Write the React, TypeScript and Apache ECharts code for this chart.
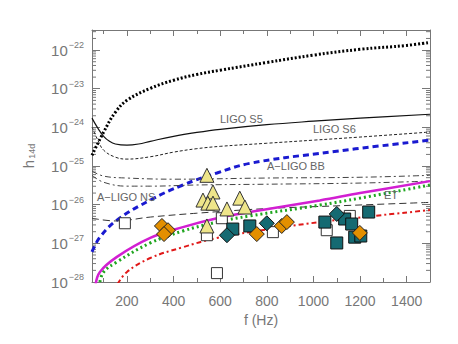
import React, { useEffect, useRef } from 'react';
import * as echarts from 'echarts';

// Frequencies (Hz) and log10(h) values
const topDotF = [50, 100, 150, 200, 300, 400, 500, 600, 800, 1000, 1200, 1400, 1500];
const topDotLog = [-24.72, -24.12, -23.61, -23.30, -22.99, -22.78, -22.63, -22.52, -22.32, -22.13, -21.98, -21.88, -21.80];

const s5F = [50, 75, 100, 125, 150, 200, 250, 300, 400, 500, 600, 800, 1000, 1200, 1500];
const s5Log = [-23.76, -24.02, -24.23, -24.36, -24.43, -24.46, -24.43, -24.36, -24.23, -24.13, -24.05, -23.93, -23.84, -23.76, -23.66];

const s6F = [50, 75, 100, 150, 200, 300, 400, 500, 600, 800, 1000, 1200, 1500];
const s6Log = [-23.99, -24.33, -24.59, -24.77, -24.82, -24.76, -24.64, -24.55, -24.49, -24.41, -24.33, -24.25, -24.12];

const blueF = [50, 84, 157, 300, 440, 586, 727, 1027, 1500];
const blueLog = [-27.22, -26.84, -26.40, -25.88, -25.49, -25.18, -24.93, -24.67, -24.33];

const bbF = [50, 100, 200, 400, 800, 1200, 1500];
const bbLog = [-25.13, -25.26, -25.31, -25.34, -25.31, -25.29, -25.24];

const nsF = [50, 100, 200, 300, 500, 800, 1200, 1500];
const nsLog = [-25.24, -25.42, -25.52, -25.52, -25.49, -25.47, -25.44, -25.39];

const etF = [50, 150, 300, 500, 800, 1100, 1500];
const etLog = [-26.35, -26.42, -26.32, -26.22, -26.10, -26.03, -25.94];

const magF = [65, 84, 157, 300, 440, 586, 727, 1027, 1200, 1500];
const magLog = [-28.08, -27.74, -27.35, -26.86, -26.58, -26.35, -26.19, -25.89, -25.70, -25.39];

const greenF = [84, 100, 157, 300, 440, 586, 727, 1027, 1200, 1500];
const greenLog = [-28.0, -27.74, -27.48, -26.99, -26.68, -26.45, -26.29, -26.01, -25.83, -25.49];

const redF = [160, 200, 300, 440, 586, 727, 1027, 1500];
const redLog = [-28.05, -27.74, -27.38, -27.10, -26.86, -26.71, -26.45, -26.14];

// Markers: [f (Hz), log10 h]
const triangles = [[543, -25.24], [569, -25.67], [526, -25.88], [547, -25.96], [569, -25.96], [629, -26.11], [684, -25.83], [706, -26.06], [543, -26.55]];
const openSquares = [[191, -26.48], [543, -26.79], [607, -26.35], [586, -27.77], [826, -26.71], [1057, -26.66], [1156, -26.29]];
const tealSquares = [[654, -26.63], [727, -26.55], [1049, -26.45], [1134, -26.37], [1164, -26.50], [1100, -26.99], [1177, -26.84], [1203, -26.81], [1237, -26.19]];
const tealDiamonds = [[629, -26.79], [800, -26.48], [1100, -26.24]];
const orangeDiamonds = [[350, -26.55], [376, -26.66], [359, -26.76], [757, -26.76], [864, -26.55], [886, -26.45], [1199, -26.73]];

// Decades shown on the log axis
const decades = [-28, -27, -26, -25, -24, -23, -22];
const minorMultipliers = [2, 3, 4, 5, 6, 7, 8, 9];

const X_MIN = 50;
const X_MAX = 1500;
const Y_MIN = -28;
const Y_MAX = -21.48;

const toData = (f: number[], lg: number[]) => f.map((x, i) => [x, lg[i]]);

const FONT = 'Liberation Sans';
const GREY = '#777';

export default function App() {
  const ref = useRef<HTMLDivElement>(null);
  useEffect(() => {
    const chart = echarts.init(ref.current!, null, { renderer: 'svg' });
    const yFmt = (v: number) => {
      const e = Math.round(v);
      if (Math.abs(v - e) > 0.01) return '';
      return `{b|10}{s|\u2212${-e}}`;
    };
    const line = (name: string, f: number[], lg: number[], color: string, width: number, type: any) => ({
      name, type: 'line', data: toData(f, lg), smooth: 0.4, showSymbol: false, symbol: 'none',
      lineStyle: { color, width, type }, z: 2, clip: true,
    });
    const scatter = (name: string, p: number[][], symbol: string, size: number, color: string, borderColor: string, z = 5) => ({
      name, type: 'scatter', data: p, symbol, symbolSize: size,
      itemStyle: { color, borderColor, borderWidth: 1, opacity: 1 }, z,
    });
    const minorTickVals: number[][] = [];
    decades.forEach((d) => minorMultipliers.forEach((k) => {
      const v = d + Math.log10(k);
      if (v < Y_MAX) minorTickVals.push([X_MIN, v]);
    }));
    const option: any = {
      animation: false,
      backgroundColor: '#fff',
      grid: { left: 92, right: 28, top: 30, bottom: 62, containLabel: false },
      xAxis: [
        {
          type: 'value', min: X_MIN, max: X_MAX, splitNumber: 7,
          name: 'f (Hz)', nameLocation: 'middle', nameGap: 31,
          nameTextStyle: { fontFamily: FONT, fontSize: 14, color: GREY },
          axisLine: { show: true, onZero: false, lineStyle: { color: GREY, width: 1 } },
          axisTick: { show: true, inside: true, length: 6, lineStyle: { color: GREY } },
          minorTick: { show: true, splitNumber: 2, length: 4, lineStyle: { color: GREY } },
          axisLabel: { fontFamily: FONT, fontSize: 14, color: GREY, margin: 12, formatter: (v: number) => (v % 200 === 0 ? String(v) : '') },
          splitLine: { show: false },
        },
        {
          type: 'value', min: X_MIN, max: X_MAX, splitNumber: 7, position: 'top',
          axisLine: { show: true, onZero: false, lineStyle: { color: GREY, width: 1 } },
          axisTick: { show: true, inside: true, length: 6, lineStyle: { color: GREY } },
          minorTick: { show: true, splitNumber: 2, length: 4, lineStyle: { color: GREY } },
          axisLabel: { show: false },
          splitLine: { show: false },
        },
      ],
      yAxis: [
        {
          type: 'value', min: Y_MIN, max: Y_MAX, interval: 1,
          name: '{h|h}{sub|14d}', nameLocation: 'middle', nameGap: 56, nameRotate: 90,
          nameTextStyle: { rich: { h: { fontFamily: FONT, fontSize: 15, color: GREY }, sub: { fontFamily: FONT, fontSize: 9, color: GREY, padding: [6, 0, 0, 1] } } },
          axisLine: { show: true, onZero: false, lineStyle: { color: GREY, width: 1 } },
          axisTick: { show: true, inside: true, length: 8, lineStyle: { color: GREY } },
          axisLabel: {
            formatter: yFmt, margin: 8,
            rich: {
              b: { fontFamily: FONT, fontSize: 15, color: GREY },
              s: { fontFamily: FONT, fontSize: 9, color: GREY, padding: [0, 0, 10, 1] },
            },
          },
          splitLine: { show: false },
        },
        {
          type: 'value', min: Y_MIN, max: Y_MAX, interval: 1, position: 'right',
          axisLine: { show: true, onZero: false, lineStyle: { color: GREY, width: 1 } },
          axisTick: { show: true, inside: true, length: 8, lineStyle: { color: GREY } },
          axisLabel: { show: false },
          splitLine: { show: false },
        },
      ],
      series: [
        {
          type: 'custom', name: 'minorLogTicks', data: minorTickVals, silent: true, z: 1,
          renderItem: (params: any, api: any) => {
            const y = api.coord([X_MIN, api.value(1)])[1];
            const l = api.coord([X_MIN, Y_MIN])[0];
            const r = api.coord([X_MAX, Y_MIN])[0];
            const st = { stroke: GREY, lineWidth: 1 };
            return {
              type: 'group', children: [
                { type: 'line', shape: { x1: l, y1: y, x2: l + 4, y2: y }, style: st },
                { type: 'line', shape: { x1: r, y1: y, x2: r - 4, y2: y }, style: st },
              ],
            };
          },
        },
        line('top', topDotF, topDotLog, '#000', 3, [2, 2]),
        line('LIGO S5', s5F, s5Log, '#111', 1.2, 'solid'),
        line('LIGO S6', s6F, s6Log, '#222', 1, [3, 2]),
        line('blue', blueF, blueLog, '#1a1ad0', 3, [6, 4]),
        line('A-LIGO BB', bbF, bbLog, '#444', 1, [6, 3, 2, 3]),
        line('A-LIGO NS', nsF, nsLog, '#444', 1, [6, 3, 2, 3]),
        line('ET', etF, etLog, '#333', 1, [7, 4]),
        line('magenta', magF, magLog, '#d21fd2', 2.5, 'solid'),
        line('green', greenF, greenLog, '#1fa51f', 3, [2, 3]),
        line('red', redF, redLog, '#e01818', 2, [5, 3, 2, 3]),
        scatter('open', openSquares, 'rect', 11, '#fff', '#333', 4),
        scatter('triangles', triangles, 'triangle', 14, '#eee58a', '#333', 6),
        scatter('tealSq', tealSquares, 'rect', 12, '#156a72', '#111', 5),
        scatter('tealDi', tealDiamonds, 'diamond', 15, '#156a72', '#111', 5),
        scatter('orange', orangeDiamonds, 'diamond', 15, '#e38f00', '#222', 6),
      ],
      graphic: [
        { type: 'text', x: 220, y: 113, style: { text: 'LIGO S5', fill: '#666', font: `11px "${FONT}"` }, z: 10 },
        { type: 'text', x: 313, y: 123, style: { text: 'LIGO S6', fill: '#666', font: `11px "${FONT}"` }, z: 10 },
        { type: 'text', x: 267, y: 160, style: { text: 'A\u2212LIGO BB', fill: '#666', font: `11px "${FONT}"` }, z: 10 },
        { type: 'text', x: 97, y: 191, style: { text: 'A\u2212LIGO NS', fill: '#666', font: `11px "${FONT}"` }, z: 10 },
        { type: 'text', x: 384, y: 189, style: { text: 'ET', fill: '#666', font: `11px "${FONT}"` }, z: 10 },
      ],
    };
    chart.setOption(option);
    return () => chart.dispose();
  }, []);
  return <div ref={ref} style={{ width: 458, height: 344, position: 'absolute', left: 0, top: 0 }} />;
}
